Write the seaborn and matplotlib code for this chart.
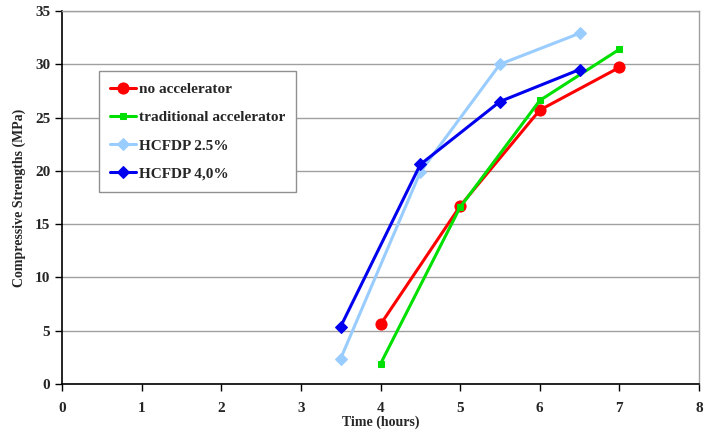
import pandas as pd
import numpy as np
import matplotlib
matplotlib.use("Agg")
import matplotlib.pyplot as plt
import seaborn as sns

# data
time_a = [4, 5, 6, 7]
no_acc = [5.6, 16.7, 25.7, 29.7]
trad_acc = [1.9, 16.6, 26.6, 31.4]
time_b = [3.5, 4.5, 5.5, 6.5]
hcfdp_25 = [2.4, 19.9, 30.0, 32.9]
hcfdp_40 = [5.4, 20.6, 26.5, 29.5]

series = [
    ("no accelerator", time_a, no_acc, "#ff0000", "o", 8),
    ("traditional accelerator", time_a, trad_acc, "#00e000", "s", 5),
    ("HCFDP 2.5%", time_b, hcfdp_25, "#99ccff", "D", 6),
    ("HCFDP 4,0%", time_b, hcfdp_40, "#0000ee", "D", 6),
]

sns.set_style("white")
plt.rcParams["font.family"] = ["Liberation Serif", "DejaVu Serif"]
plt.rcParams["font.weight"] = "bold"

fig = plt.figure(figsize=(7.04, 4.36), dpi=100)
ax = fig.add_axes([0.088, 0.119, 0.905, 0.856])

for name, x, y, color, marker, ms in series:
    df = pd.DataFrame({"Time": x, "Strength": y})
    sns.lineplot(data=df, x="Time", y="Strength", ax=ax, color=color,
                 marker=marker, markersize=ms, markeredgecolor=color,
                 linewidth=2.2, label=name)

ax.set_xlim(0, 8)
ax.set_ylim(0, 35)
ax.set_xticks(range(0, 9))
ax.set_yticks(range(0, 36, 5))
ax.yaxis.grid(True, color="#a0a0a0", linewidth=1)
ax.xaxis.grid(False)
ax.set_axisbelow(True)

for s in ["left", "bottom"]:
    ax.spines[s].set_color("black")
    ax.spines[s].set_linewidth(1.2)
for s in ["top", "right"]:
    ax.spines[s].set_visible(True)
    ax.spines[s].set_color("#a0a0a0")
    ax.spines[s].set_linewidth(1)

ax.tick_params(axis="both", direction="out", length=5, width=1, color="black",
               labelsize=11, bottom=True, left=True)
ax.tick_params(axis="x", pad=8)
for lbl in ax.get_xticklabels() + ax.get_yticklabels():
    lbl.set_fontweight("bold")

ax.set_xlabel("Time (hours)", fontsize=10, fontweight="bold", labelpad=0)
ax.set_ylabel("Compressive Strengths (MPa)", fontsize=10, fontweight="bold", labelpad=6)

leg = ax.legend(loc="upper left", bbox_to_anchor=(0.058, 0.839), borderaxespad=0,
                frameon=True, fancybox=False, edgecolor="#909090", framealpha=1,
                prop={"weight": "bold", "size": 11}, handlelength=1.7,
                labelspacing=0.95, borderpad=0.75, handletextpad=0.15)
leg.get_frame().set_linewidth(1)

fig.savefig("out.png", dpi=100)
